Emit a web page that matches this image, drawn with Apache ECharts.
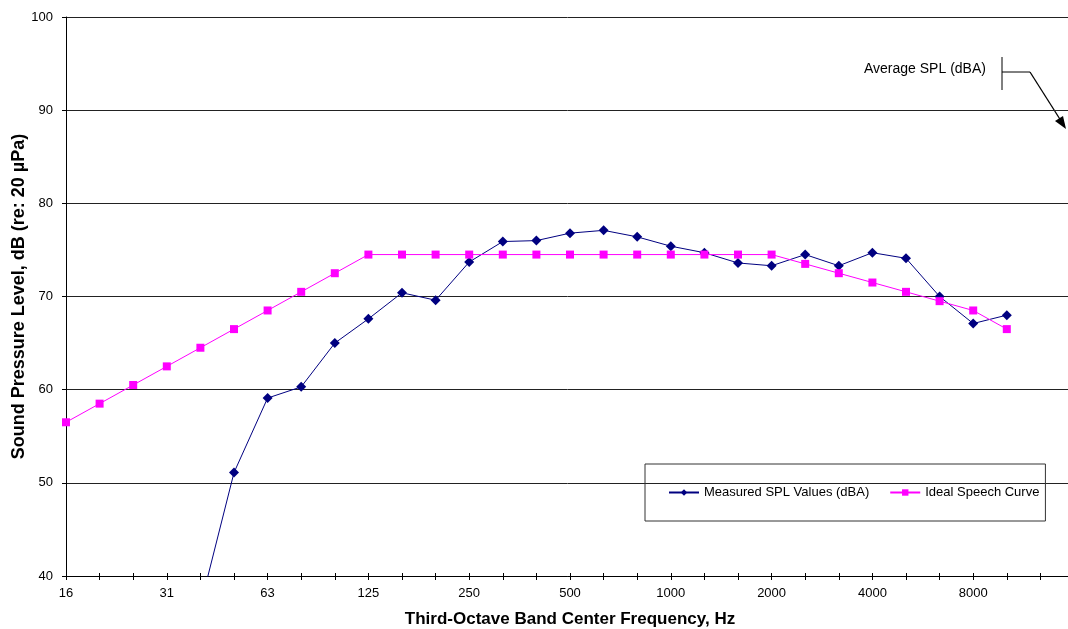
<!DOCTYPE html>
<html>
<head>
<meta charset="utf-8">
<script src="https://cdn.jsdelivr.net/npm/echarts@6/dist/echarts.min.js"></script>
<style>html,body{margin:0;padding:0;background:#fff}#c{width:1068px;height:629px}</style>
</head>
<body>
<div id="c"></div>
<script>
var categories = ["16","20","25","31","40","50","63","80","100","125","160","200","250","315","400","500","630","800","1000","1250","1600","2000","2500","3150","4000","5000","6300","8000","10000","12500","16000"];
var measured = [null,null,null,null,36.8,51.1,59.1,60.3,65.0,67.6,70.4,69.6,73.7,75.9,76.0,76.8,77.1,76.4,75.4,74.7,73.6,73.3,74.5,73.3,74.7,74.1,70.0,67.1,68.0,null,null];
var ideal = [56.5,58.5,60.5,62.5,64.5,66.5,68.5,70.5,72.5,74.5,74.5,74.5,74.5,74.5,74.5,74.5,74.5,74.5,74.5,74.5,74.5,74.5,73.5,72.5,71.5,70.5,69.5,68.5,66.5,null,null];
var yTicks = [40,50,60,70,80,90,100];

var chart = echarts.init(document.getElementById('c'), null, {renderer:'canvas'});
var font = 'Liberation Sans, Arial, sans-serif';
chart.setOption({
  animation:false,
  backgroundColor:'#fff',
  textStyle:{fontFamily:font},
  grid:{left:66, right:-6, top:17, bottom:53, containLabel:false, outerBoundsMode:'none'},
  xAxis:[{
    type:'category', data:categories, boundaryGap:false,
    name:'Third-Octave Band Center Frequency, Hz', nameLocation:'middle', nameGap:35,
    nameTextStyle:{fontFamily:font,fontSize:17,fontWeight:'bold',color:'#000'},
    axisLine:{lineStyle:{color:'#000',width:1}},
    axisTick:{show:true,interval:0,length:4,lineStyle:{color:'#000'}},
    axisLabel:{interval:function(i){return i%3===0 && i<30;},fontSize:13,color:'#000',margin:11,fontFamily:font},
    splitLine:{show:false}
  },{
    type:'category', data:categories, boundaryGap:false, position:'bottom',
    axisLine:{show:false},
    axisTick:{show:true,inside:true,interval:0,length:3,lineStyle:{color:'#000'}},
    axisLabel:{show:false}, splitLine:{show:false}
  }],
  yAxis:{
    type:'value', min:yTicks[0], max:yTicks[yTicks.length-1], interval:10,
    name:'Sound Pressure Level, dB (re: 20 µPa)', nameLocation:'middle', nameGap:38,
    nameMoveOverlap:false,
    nameTextStyle:{fontFamily:font,fontSize:18,fontWeight:'bold',color:'#000'},
    axisLine:{show:true,lineStyle:{color:'#000',width:1}},
    axisTick:{show:true,length:4,lineStyle:{color:'#000'}},
    axisLabel:{fontSize:13,color:'#000',margin:13,fontFamily:font},
    splitLine:{show:true,lineStyle:{color:'#222',width:1}}
  },
  legend:{
    left:645, top:464,
    orient:'horizontal',
    padding:[22,6,22,23],
    itemGap:20, itemWidth:30, itemHeight:8,
    borderColor:'#333', borderWidth:1,
    textStyle:{fontFamily:font,fontSize:13,color:'#000'},
    data:['Measured SPL Values (dBA)','Ideal Speech Curve']
  },
  series:[{
    name:'Measured SPL Values (dBA)', type:'line', data:measured,
    connectNulls:false, clip:true,
    symbol:'diamond', symbolSize:10, showAllSymbol:true,
    lineStyle:{color:'#000080',width:1}, itemStyle:{color:'#000080'}, z:2
  },{
    name:'Ideal Speech Curve', type:'line', data:ideal,
    symbol:'rect', symbolSize:8, showAllSymbol:true,
    lineStyle:{color:'#FF00FF',width:1}, itemStyle:{color:'#FF00FF'}, z:3
  }],
  graphic:[
    {type:'text', left:864, top:62, style:{text:'Average SPL (dBA)', font:'14px '+font, fill:'#000'}},
    {type:'line', shape:{x1:1002,y1:57,x2:1002,y2:90}, style:{stroke:'#000',lineWidth:1}},
    {type:'line', shape:{x1:1002,y1:72,x2:1030,y2:72}, style:{stroke:'#000',lineWidth:1}},
    {type:'line', shape:{x1:1030,y1:72,x2:1063,y2:124}, style:{stroke:'#000',lineWidth:1.3}},
    {type:'polygon', shape:{points:[[1066,129],[1055,121],[1063,116]]}, style:{fill:'#000'}}
  ]
});
</script>
</body>
</html>
